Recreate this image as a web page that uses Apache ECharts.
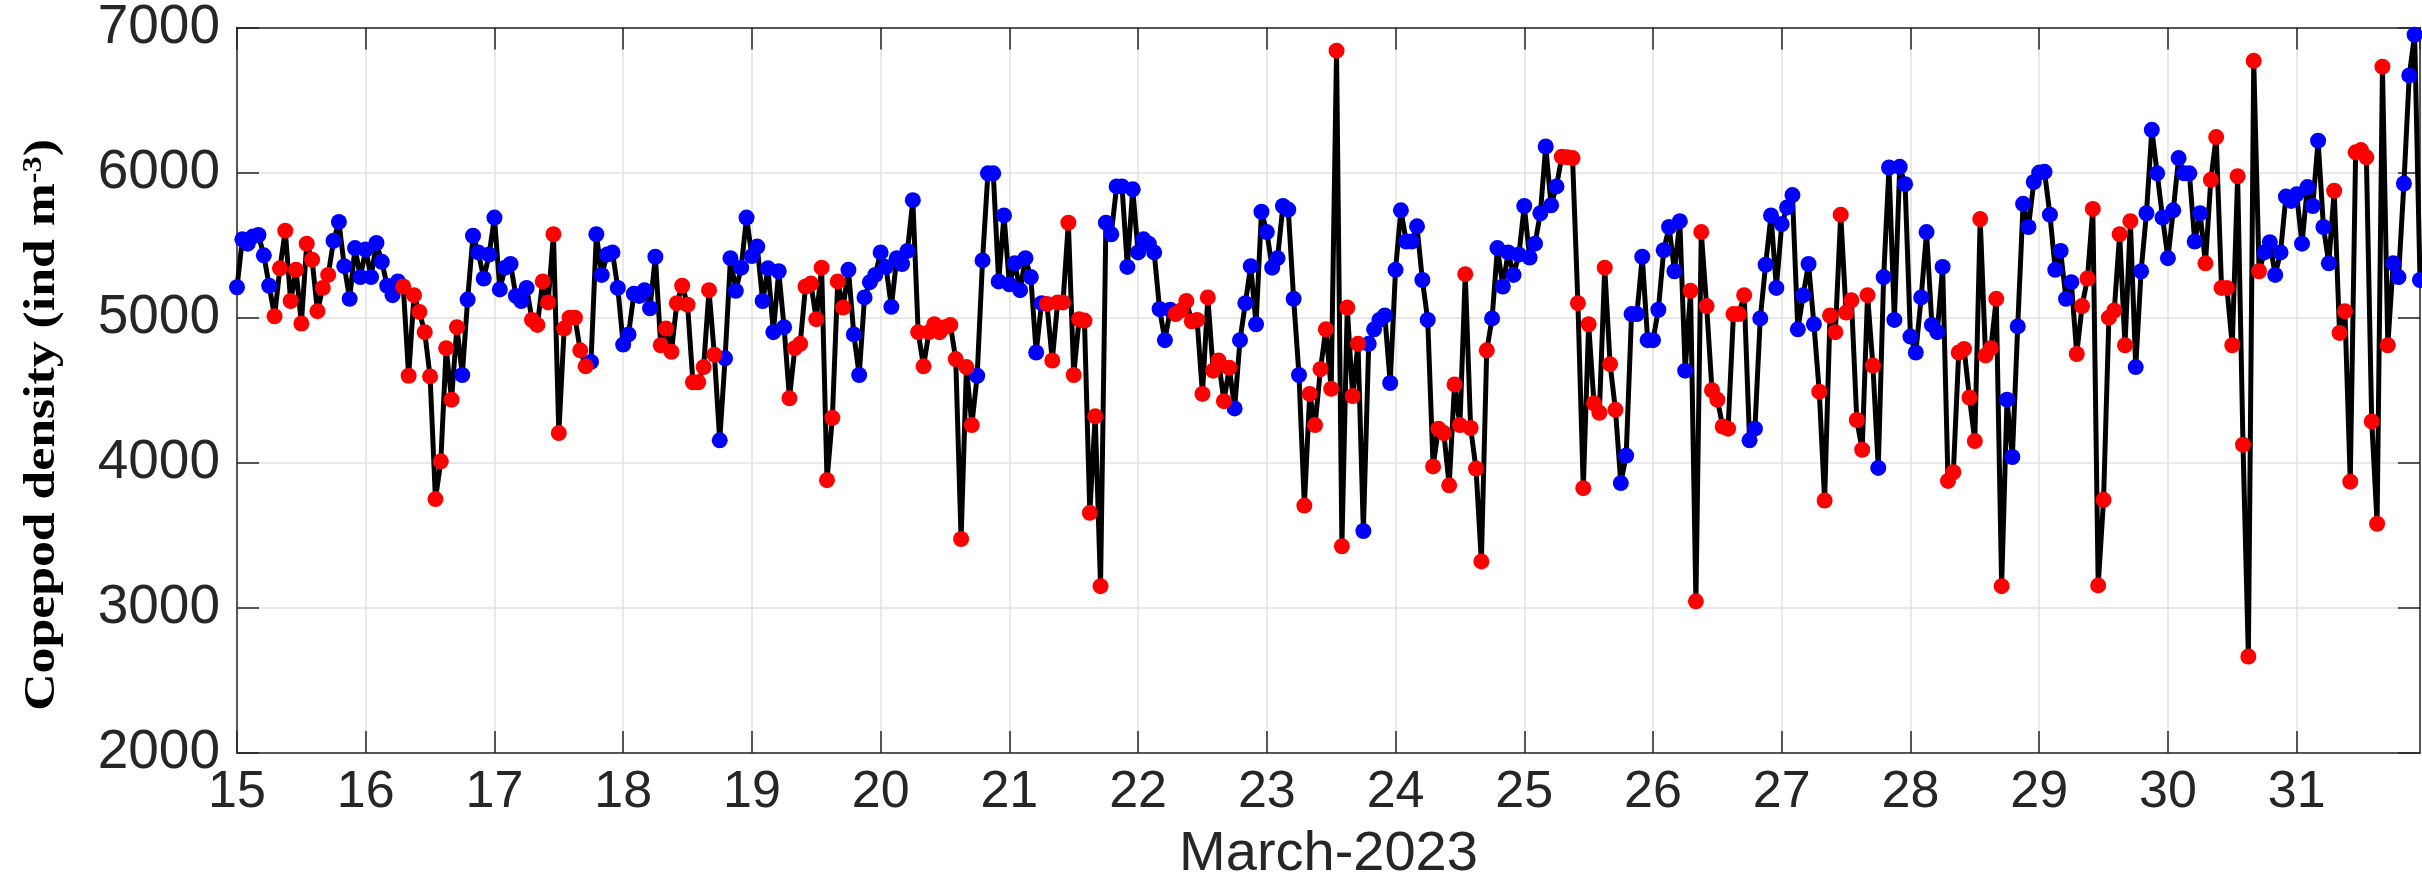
<!DOCTYPE html>
<html>
<head>
<meta charset="utf-8">
<script src="https://cdn.jsdelivr.net/npm/echarts@6/dist/echarts.min.js"></script>
<style>
html,body{margin:0;padding:0;background:#ffffff;}
#chart{width:2422px;height:888px;}
</style>
</head>
<body>
<div id="chart"></div>
<script>
// ---------- DATA (hourly copepod density, ind m^-3, March 2023) ----------
const firstDay = 15;
const lastDay = 31;
const monthLabel = 'March-2023';
const yTicks = [2000, 3000, 4000, 5000, 6000, 7000];
// daytime hours (red markers); other hours are night (blue markers)
const daytimeHours = [7, 8, 9, 10, 11, 12, 13, 14, 15, 16, 17];

const mar15 = [5210,5540,5510,5560,5570,5430,5220,5010,5340,5600,5115,5330,4960,5510,5400,5045,5205,5295,5530,5660,5355,5130,5480,5280];
const mar16 = [5470,5280,5515,5385,5220,5155,5250,5215,4600,5155,5040,4900,4595,3750,4010,4790,4435,4935,4605,5125,5565,5450,5270,5435];
const mar17 = [5690,5195,5345,5370,5150,5115,5205,4985,4950,5250,5105,5575,4205,4925,5000,5000,4775,4665,4695,5575,5295,5435,5450,5205];
const mar18 = [4815,4885,5165,5150,5190,5065,5420,4810,4925,4765,5100,5220,5090,4555,4555,4660,5190,4745,4155,4720,5410,5185,5345,5690];
const mar19 = [5425,5490,5115,5340,4900,5320,4935,4445,4790,4820,5215,5235,4990,5345,3880,4310,5250,5070,5330,4885,4605,5140,5245,5295];
const mar20 = [5450,5350,5075,5410,5370,5460,5810,4900,4665,4900,4955,4900,4935,4950,4715,3475,4660,4260,4600,5395,5995,5995,5250,5705];
const mar21 = [5230,5375,5190,5410,5280,4760,5100,5095,4705,5105,5105,5655,4605,4990,4980,3655,4320,3150,5655,5575,5905,5905,5350,5885];
const mar22 = [5450,5540,5510,5450,5060,4845,5055,5025,5050,5115,4975,4985,4475,5140,4635,4705,4425,4655,4375,4845,5100,5355,4955,5730];
const mar23 = [5590,5345,5410,5770,5745,5130,4605,3705,4475,4260,4645,4920,4510,6840,3425,5070,4460,4820,3530,4820,4920,4985,5015,4550];
const mar24 = [5330,5740,5525,5525,5630,5260,4985,3975,4235,4205,3845,4540,4260,5300,4240,3960,3320,4775,4995,5480,5215,5450,5295,5435];
const mar25 = [5770,5415,5510,5720,6180,5775,5905,6110,6105,6100,5100,3825,4955,4410,4345,5345,4680,4365,3860,4050,5025,5025,5420,4845];
const mar26 = [4845,5055,5465,5625,5320,5665,4635,5185,3045,5590,5080,4500,4435,4250,4235,5025,5025,5155,4155,4235,4995,5365,5705,5205];
const mar27 = [5645,5760,5845,4920,5155,5370,4955,4490,3740,5015,4900,5710,5035,5120,4295,4090,5155,4670,3965,5280,6035,4985,6040,5920];
const mar28 = [4870,4760,5140,5590,4950,4900,5350,3875,3935,4760,4785,4450,4150,5680,4740,4790,5130,3150,4435,4040,4940,5785,5625,5935];
const mar29 = [6000,6005,5710,5330,5460,5130,5245,4750,5080,5270,5750,3155,3745,5000,5050,5575,4810,5665,4660,5320,5720,6295,5995,5690];
const mar30 = [5410,5740,6100,5995,5995,5525,5720,5375,5950,6245,5205,5205,4810,5975,4125,2665,6770,5320,5450,5520,5295,5450,5835,5805];
const mar31 = [5850,5510,5900,5770,6220,5625,5375,5875,4895,5045,3870,6140,6155,6105,4285,3580,6730,4810,5375,5280,5925,6670,6950,5260];

const dailySeries = [mar15,mar16,mar17,mar18,mar19,mar20,mar21,mar22,mar23,mar24,mar25,mar26,mar27,mar28,mar29,mar30,mar31];

// ---------- BUILD ----------
const allPts = [], dayPts = [], nightPts = [];
dailySeries.forEach(function (vals, d) {
  vals.forEach(function (v, h) {
    const p = [firstDay + d + h / 24, v];
    allPts.push(p);
    if (daytimeHours.indexOf(h) >= 0) dayPts.push(p); else nightPts.push(p);
  });
});
const xMin = firstDay;
const xMax = allPts[allPts.length - 1][0];

const axisColor = '#262626';
const tickFont = 'Liberation Sans';
function dayLabel(v) {
  return Math.abs(v - Math.round(v)) < 1e-6 && v <= lastDay ? String(Math.round(v)) : '';
}
function plainNum(v) { return String(v); }

const chart = echarts.init(document.getElementById('chart'), null, {renderer: 'canvas'});
chart.setOption({
  animation: false,
  backgroundColor: '#ffffff',
  grid: {left: 237, right: 2, top: 27, bottom: 135, containLabel: false},
  xAxis: [{
    type: 'value', min: xMin, max: xMax, interval: 1,
    axisLine: {show: true, onZero: false, lineStyle: {color: axisColor, width: 1.5}},
    axisTick: {show: true, inside: true, length: 22, lineStyle: {color: axisColor, width: 1.5}},
    axisLabel: {formatter: dayLabel, fontSize: 52, color: axisColor, fontFamily: tickFont, margin: 14, showMaxLabel: false},
    splitLine: {show: true, lineStyle: {color: '#e2e2e2', width: 1.5}},
    name: monthLabel, nameLocation: 'middle', nameGap: 74,
    nameTextStyle: {fontSize: 56, color: axisColor, fontFamily: tickFont}
  }, {
    type: 'value', position: 'top', min: xMin, max: xMax, interval: 1,
    axisLine: {show: true, onZero: false, lineStyle: {color: axisColor, width: 1.5}},
    axisTick: {show: true, inside: true, length: 22, lineStyle: {color: axisColor, width: 1.5}},
    axisLabel: {show: false}, splitLine: {show: false}
  }],
  yAxis: [{
    type: 'value', min: yTicks[0], max: yTicks[yTicks.length - 1], interval: 1000,
    axisLine: {show: true, onZero: false, lineStyle: {color: axisColor, width: 1.5}},
    axisTick: {show: true, inside: true, length: 22, lineStyle: {color: axisColor, width: 1.5}},
    axisLabel: {formatter: plainNum, fontSize: 55, color: axisColor, fontFamily: tickFont, margin: 17},
    splitLine: {show: true, lineStyle: {color: '#e2e2e2', width: 1.5}}
  }, {
    type: 'value', position: 'right', min: yTicks[0], max: yTicks[yTicks.length - 1], interval: 1000,
    axisLine: {show: true, onZero: false, lineStyle: {color: axisColor, width: 1.5}},
    axisTick: {show: true, inside: true, length: 22, lineStyle: {color: axisColor, width: 1.5}},
    axisLabel: {show: false}, splitLine: {show: false}
  }],
  graphic: [{
    type: 'text', x: 42, y: 425, rotation: Math.PI / 2, scaleX: 1.15, scaleY: 1,
    style: {
      text: '{a|Copepod density (ind m}{s|-3}{a|)}',
      align: 'center', verticalAlign: 'middle',
      rich: {
        a: {fontFamily: 'Liberation Serif', fontWeight: 'bold', fontSize: 45, fill: '#000000'},
        s: {fontFamily: 'Liberation Serif', fontWeight: 'bold', fontSize: 28, fill: '#000000', verticalAlign: 'top'}
      }
    }
  }],
  series: [{
    type: 'line', data: allPts, xAxisIndex: 0, yAxisIndex: 0,
    symbol: 'none', lineStyle: {color: '#000000', width: 5}, z: 2
  }, {
    type: 'scatter', data: nightPts, xAxisIndex: 0, yAxisIndex: 0,
    symbol: 'circle', symbolSize: 16, itemStyle: {color: '#0000ff', opacity: 1}, z: 3
  }, {
    type: 'scatter', data: dayPts, xAxisIndex: 0, yAxisIndex: 0,
    symbol: 'circle', symbolSize: 16, itemStyle: {color: '#ff0000', opacity: 1}, z: 4
  }]
});
</script>
</body>
</html>
